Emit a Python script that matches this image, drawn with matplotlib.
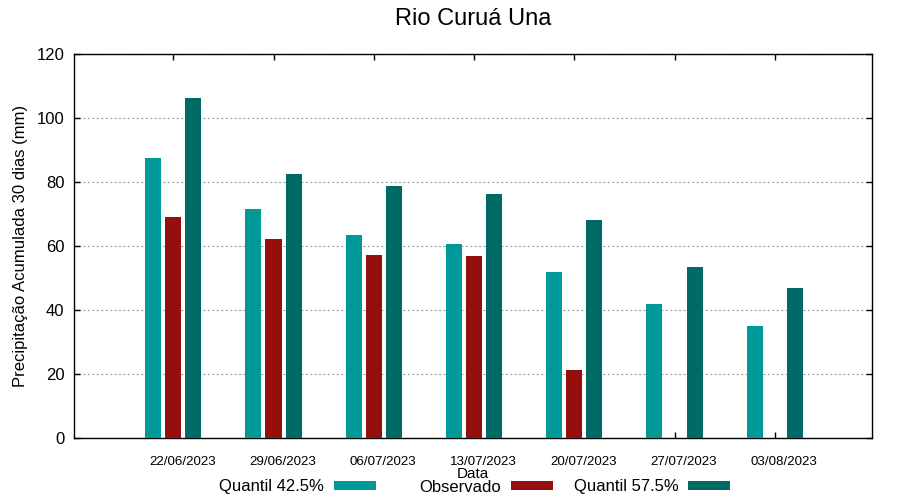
import matplotlib.pyplot as plt
import numpy as np

plt.rcParams['font.family'] = ['Liberation Sans', 'DejaVu Sans']

# Dados
datas = ["22/06/2023", "29/06/2023", "06/07/2023", "13/07/2023",
         "20/07/2023", "27/07/2023", "03/08/2023"]
quantil_425 = [87.5, 71.6, 63.4, 60.6, 51.9, 41.9, 35.0]
observado = [69.1, 62.2, 57.2, 56.9, 21.3, np.nan, np.nan]
quantil_575 = [106.3, 82.5, 78.8, 76.3, 68.1, 53.4, 46.9]

cor_q425 = "#009999"
cor_obs = "#960f0f"
cor_q575 = "#006a66"

fig = plt.figure(figsize=(9, 5), dpi=100)
ax = fig.add_axes([74 / 900, 1 - 438 / 500, 798 / 900, 384 / 500])

x = np.arange(len(datas))
largura = 0.16
b1 = ax.bar(x - 0.2, quantil_425, largura, color=cor_q425, zorder=3)
b2 = ax.bar(x, observado, largura, color=cor_obs, zorder=3)
b3 = ax.bar(x + 0.2, quantil_575, largura, color=cor_q575, zorder=3)

ax.set_xlim(-0.99, 6.97)
ax.set_ylim(0, 120)
ax.set_yticks(np.arange(0, 121, 20))

# marcas nas posições das datas; rótulos (ticks menores) um pouco à direita
ax.set_xticks(x)
ax.set_xticklabels([])
ax.set_xticks(x + 0.09, minor=True)
ax.set_xticklabels(datas, minor=True, fontsize=9.6)

ax.tick_params(axis='x', which='major', direction='in', length=4.5, width=1, top=True)
ax.tick_params(axis='x', which='minor', length=0, pad=13)
ax.tick_params(axis='y', direction='in', length=4.5, width=1, right=True,
               labelsize=12, pad=7)

ax.yaxis.grid(True, color="#a0a0a0", linestyle=(0, (2, 2)), linewidth=0.8, zorder=0)
for s in ax.spines.values():
    s.set_linewidth(1)

ax.set_ylabel("Precipitação Acumulada 30 dias (mm)", fontsize=12, labelpad=6)
ax.set_xlabel("Data", fontsize=11)
ax.xaxis.set_label_coords(0.5, -0.075)

fig.text(473 / 900, 1 - 19 / 500, "Rio Curuá Una", fontsize=17,
         ha='center', va='center')

# legenda em três colunas fixas (texto à esquerda, amostra à direita)
itens = [(b1, "Quantil 42.5%", 376), (b2, "Observado", 553), (b3, "Quantil 57.5%", 730)]
for h, rotulo, x_fim in itens:
    fig.legend([h], [rotulo], loc='center right',
               bbox_to_anchor=(x_fim / 900, 1 - 487 / 500),
               markerfirst=False, frameon=False, fontsize=12,
               borderpad=0, borderaxespad=0, handlelength=2.5,
               handleheight=0.45, handletextpad=0.6)

plt.savefig("out.png", dpi=100)
